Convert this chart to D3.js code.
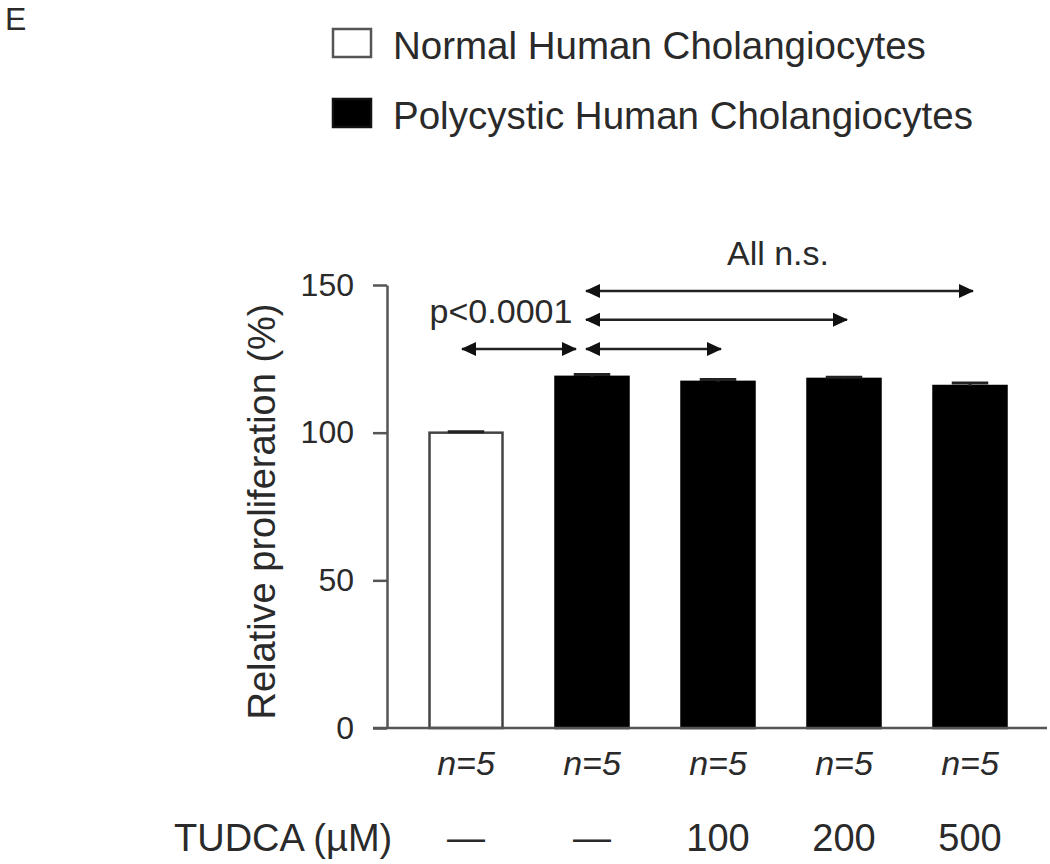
<!DOCTYPE html>
<html>
<head>
<meta charset="utf-8">
<script src="https://cdn.jsdelivr.net/npm/d3@7"></script>
<style>
  body { margin: 0; background: #fff; }
  text { font-family: "Liberation Sans", Arial, sans-serif; fill: #2a2a2a; }
</style>
</head>
<body>
<div class="canva"></div>
<script>
// data
var groups = ["normal", "pkd", "tudca100", "tudca200", "tudca500"];
var cellType = ["Normal", "Polycystic", "Polycystic", "Polycystic", "Polycystic"];
var means = [100, 118.9, 117.2, 118.2, 115.8];
var sems = [0.3, 0.8, 0.8, 0.6, 1.0];
var nLabels = ["n=5", "n=5", "n=5", "n=5", "n=5"];
var tudcaLabels = ["\u2014", "\u2014", "100", "200", "500"];
var yTicks = [0, 50, 100, 150];
var legendLabels = ["Normal Human Cholangiocytes", "Polycystic Human Cholangiocytes"];
// comparison arrows: from group, to group, height in % units
var compFrom = [0, 1, 1, 1];
var compTo = [1, 2, 3, 4];
var compLevel = [128.3, 128.3, 138.2, 148];
var compTexts = ["p<0.0001", "All n.s."];

const svg = d3.select(".canva").append("svg")
    .attr("width", 1050)
    .attr("height", 864);

const axisColor = "#555";

// scales
var y = d3.scaleLinear().domain([0, 150]).range([728, 285]);
var x = d3.scalePoint().domain(groups).range([466, 970]);
var barW = 73;
var fillFor = {"Normal": "#fff", "Polycystic": "#000"};

// panel letter
svg.append("text")
    .attr("x", 5).attr("y", 30)
    .style("font-size", "32px")
    .attr("fill", "#444")
    .text("E");

// legend
var leg = svg.append("g");
legendLabels.forEach(function (lab, i) {
    leg.append("rect")
        .attr("x", 333).attr("y", 29 + i * 70)
        .attr("width", 38).attr("height", 28)
        .attr("fill", i == 0 ? "#fff" : "#000")
        .attr("stroke", i == 0 ? axisColor : "#111")
        .attr("stroke-width", 2.5);
    leg.append("text")
        .attr("x", 393).attr("y", 59 + i * 70)
        .style("font-size", "38.5px")
        .text(lab);
});

// bars
svg.append("g").selectAll("rect")
    .data(means)
    .enter()
    .append("rect")
    .attr("x", (d, i) => x(groups[i]) - barW / 2)
    .attr("y", d => y(d))
    .attr("width", barW)
    .attr("height", d => y(0) - y(d))
    .attr("fill", (d, i) => fillFor[cellType[i]])
    .attr("stroke", (d, i) => cellType[i] == "Normal" ? "#444" : "#000")
    .attr("stroke-width", 2.5);

// error bars (upper only)
var eb = svg.append("g").attr("stroke", "#222").attr("stroke-width", 3);
means.forEach(function (m, i) {
    var cx = x(groups[i]);
    eb.append("line")
        .attr("x1", cx).attr("x2", cx)
        .attr("y1", y(m)).attr("y2", y(m + sems[i]));
    eb.append("line")
        .attr("x1", cx - barW / 4).attr("x2", cx + barW / 4)
        .attr("y1", y(m + sems[i])).attr("y2", y(m + sems[i]));
});

// y axis
var yAxis = d3.axisLeft(y)
    .tickValues(yTicks)
    .tickSize(14)
    .tickPadding(19)
    .tickSizeOuter(0);
var gy = svg.append("g")
    .attr("transform", "translate(387,0)")
    .call(yAxis);
gy.select(".domain").attr("stroke", axisColor).attr("stroke-width", 2.5);
gy.selectAll(".tick line").attr("stroke", axisColor).attr("stroke-width", 2.5);
gy.selectAll(".tick text")
    .style("font-size", "32px")
    .style("font-family", "Liberation Sans, Arial, sans-serif")
    .attr("fill", "#2a2a2a");

// x axis baseline (extends left to the tick length)
svg.append("line")
    .attr("x1", 373).attr("x2", 1047)
    .attr("y1", y(0)).attr("y2", y(0))
    .attr("stroke", axisColor).attr("stroke-width", 2.5);

// y title
svg.append("text")
    .attr("transform", "translate(275," + (y(75) + 5) + ") rotate(-90)")
    .attr("text-anchor", "middle")
    .style("font-size", "38px")
    .text("Relative proliferation (%)");

// n labels
svg.append("g").selectAll("text")
    .data(nLabels)
    .enter()
    .append("text")
    .attr("x", (d, i) => x(groups[i]))
    .attr("y", 775)
    .attr("text-anchor", "middle")
    .style("font-size", "34px")
    .style("font-style", "italic")
    .text(d => d);

// TUDCA row
svg.append("text")
    .attr("x", 174).attr("y", 851)
    .style("font-size", "38px")
    .text("TUDCA (\u00b5M)");
svg.append("g").selectAll("text")
    .data(tudcaLabels)
    .enter()
    .append("text")
    .attr("x", (d, i) => x(groups[i]))
    .attr("y", 851)
    .attr("text-anchor", "middle")
    .style("font-size", "38px")
    .text(d => d);

// arrows
var defs = svg.append("defs");
defs.append("marker")
    .attr("id", "head")
    .attr("viewBox", "0 0 15 15")
    .attr("refX", 14).attr("refY", 7.5)
    .attr("markerWidth", 15).attr("markerHeight", 15)
    .attr("markerUnits", "userSpaceOnUse")
    .attr("orient", "auto-start-reverse")
    .append("path")
    .attr("d", "M0,0.5 L15,7.5 L0,14.5 Z")
    .attr("fill", "#111");

var arrows = svg.append("g");
compFrom.forEach(function (f, i) {
    var x1 = f == 0 ? x(groups[f]) - 4 : x(groups[f]) - 6;
    var x2 = compTo[i] == 1 ? x(groups[1]) - 16 : x(groups[compTo[i]]) + 3;
    arrows.append("line")
        .attr("x1", x1).attr("x2", x2)
        .attr("y1", y(compLevel[i])).attr("y2", y(compLevel[i]))
        .attr("stroke", "#222")
        .attr("stroke-width", 2.5)
        .attr("marker-start", "url(#head)")
        .attr("marker-end", "url(#head)");
});

svg.append("text")
    .attr("x", (x(groups[0]) + x(groups[1])) / 2 - 28)
    .attr("y", 323)
    .attr("text-anchor", "middle")
    .style("font-size", "34px")
    .text(compTexts[0]);

svg.append("text")
    .attr("x", 778)
    .attr("y", 265)
    .attr("text-anchor", "middle")
    .style("font-size", "34px")
    .text(compTexts[1]);
</script>
</body>
</html>
